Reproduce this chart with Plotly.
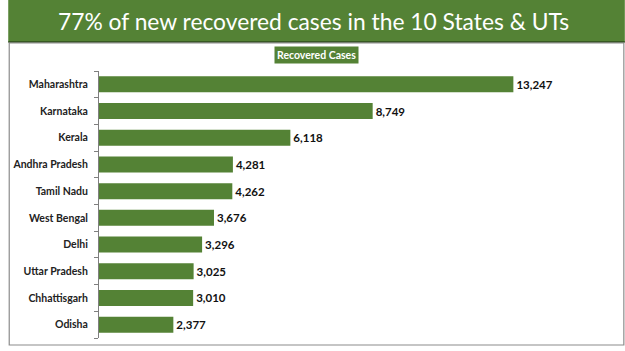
import plotly.graph_objects as go

states = ["Maharashtra", "Karnataka", "Kerala", "Andhra Pradesh", "Tamil Nadu",
          "West Bengal", "Delhi", "Uttar Pradesh", "Chhattisgarh", "Odisha"]
recovered = [13247, 8749, 6118, 4281, 4262, 3676, 3296, 3025, 3010, 2377]
title_text = "77% of new recovered cases in the 10 States & UTs"
legend_text = "Recovered Cases"

GREEN = "#548235"
W, H = 625, 351
ML, MR, MT, MB = 92, 13, 71, 13
PW, PH = W - ML - MR, H - MT - MB

def px_x(p):
    return (p - ML) / PW

def px_y(p):
    return 1 - (p - MT) / PH

fig = go.Figure(go.Bar(
    x=recovered, y=states, orientation="h",
    marker=dict(color=GREEN, line=dict(width=0)),
    width=0.6,
    text=recovered, texttemplate="%{x:,}", textposition="outside",
    textfont=dict(family="Lato", size=11.5, color="#111111", weight="bold"),
    cliponaxis=False,
))

fig.update_layout(
    width=W, height=H,
    margin=dict(l=ML, r=MR, t=MT, b=MB),
    paper_bgcolor="white", plot_bgcolor="white",
    showlegend=False,
    xaxis=dict(range=[0, 16400], visible=False),
    yaxis=dict(
        categoryorder="array", categoryarray=states[::-1],
        range=[-0.5, 9.5],
        showline=True, linecolor="#7f7f7f", linewidth=1,
        ticks="outside", ticklen=4, tickcolor="#7f7f7f", tickson="boundaries",
        ticklabelstandoff=8,
        tickfont=dict(family="Lato", size=10.5, color="#222222", weight="bold"),
        showgrid=False, zeroline=False,
    ),
    shapes=[
        dict(type="rect", xref="paper", yref="paper",
             x0=px_x(0), x1=px_x(W), y0=px_y(42), y1=px_y(0),
             fillcolor=GREEN, line=dict(width=0), layer="below"),
        dict(type="line", xref="paper", yref="paper",
             x0=px_x(0), x1=px_x(W), y0=px_y(42), y1=px_y(42),
             line=dict(color="#2e4a1e", width=1.5)),
        dict(type="rect", xref="paper", yref="paper",
             x0=px_x(1), x1=px_x(624), y0=px_y(345), y1=px_y(43),
             fillcolor="rgba(0,0,0,0)", line=dict(color="#8c8c8c", width=1.2)),
    ],
    annotations=[
        dict(text=title_text, xref="paper", yref="paper",
             x=px_x(309), y=px_y(21), xanchor="center", yanchor="middle",
             showarrow=False,
             font=dict(family="Lato", size=22.8, color="white")),
        dict(text="<b>" + legend_text + "</b>", xref="paper", yref="paper",
             x=px_x(312), y=px_y(55), xanchor="center", yanchor="middle",
             showarrow=False, bgcolor=GREEN, borderpad=2,
             font=dict(family="Lato", size=10.5, color="white")),
    ],
)

fig.write_html("out.html")
